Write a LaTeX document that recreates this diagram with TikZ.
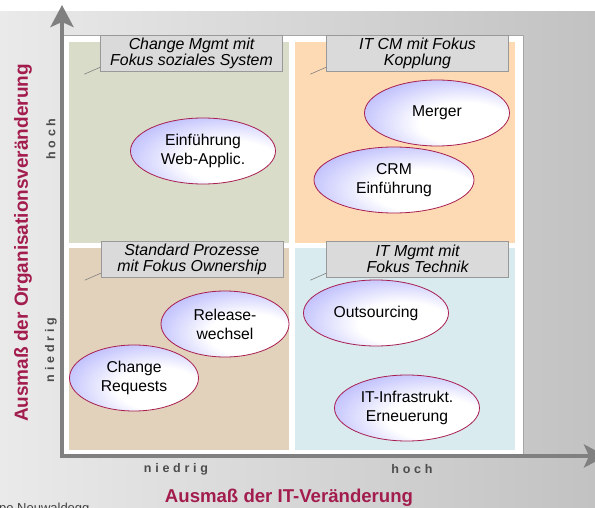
\documentclass[tikz,border=0pt]{standalone}
\usepackage{fontspec}
\setmainfont{Liberation Sans}
\usepackage{tikz}
\usetikzlibrary{shapes.geometric, arrows.meta, positioning, calc}

\definecolor{bgLight}{RGB}{234,234,234}
\definecolor{bgDark}{RGB}{194,194,194}
\definecolor{axisGray}{RGB}{128,128,128}
\definecolor{titleRed}{RGB}{163,28,78}
\definecolor{quadGreen}{RGB}{217,220,200}
\definecolor{quadOrange}{RGB}{253,218,180}
\definecolor{quadTan}{RGB}{226,209,187}
\definecolor{quadBlue}{RGB}{217,235,239}
\definecolor{lblGray}{RGB}{218,218,218}
\definecolor{ovalLine}{RGB}{168,30,80}
\definecolor{ovalBlue}{RGB}{160,160,252}

\pgfdeclareradialshading{ovalshade}{\pgfpoint{12bp}{-10bp}}{color(0bp)=(white); color(16bp)=(white); color(44bp)=(ovalBlue); color(80bp)=(ovalBlue)}

\begin{document}
\begin{tikzpicture}[
    x=1pt, y=-1pt,
    lbl/.style={rectangle, draw=axisGray!80, fill=lblGray, minimum width=182pt, minimum height=36pt, inner sep=0pt, align=center, font=\fontsize{15.9}{16}\selectfont\itshape},
    oval/.style={ellipse, draw=ovalLine, line width=0.8pt, shading=ovalshade, minimum width=145pt, minimum height=66pt, inner sep=0pt, align=center, font=\fontsize{15.7}{19}\selectfont},
    level/.style={text=black!70, font=\fontsize{12.5}{13}\selectfont\bfseries\addfontfeature{LetterSpace=30}},
    axistitle/.style={text=titleRed, font=\fontsize{18.6}{19}\selectfont\bfseries},
    leader/.style={draw=axisGray, line width=0.6pt},
    axis/.style={draw=axisGray, line width=4pt, -{Stealth[length=22pt, width=23pt, inset=5pt]}}
]
\useasboundingbox (0,0) rectangle (595,508);

% backdrop and white panel
\shade[left color=bgLight, right color=bgDark] (0,12) rectangle (595,508);
\draw[draw=axisGray!70, fill=white] (63,35) rectangle (523,455);

% quadrants
\fill[quadGreen] (69,42) rectangle (289,243);
\fill[quadOrange] (295,42) rectangle (515,243);
\fill[quadTan] (69,248) rectangle (289,450);
\fill[quadBlue] (295,248) rectangle (515,450);

% axes
\coordinate (origin) at (62,456);
\coordinate (yEnd) at (62,5);
\coordinate (xEnd) at (606,456);
\draw[axis] ([yshift=-2pt]origin) -- (yEnd);
\draw[axis] ([xshift=-2pt]origin) -- (xEnd);

\node[axistitle, rotate=90, font=\fontsize{19}{19}\selectfont\bfseries] (yTitle) at (23,243) {Ausmaß der Organisationsveränderung};
\node[axistitle] (xTitle) at (289,498) {Ausmaß der IT-Veränderung};

\node[level, rotate=90] (yHigh) at (51,139) {hoch};
\node[level, rotate=90] (yLow) at (51,350) {niedrig};
\node[level] (xLow) at (176,469) {niedrig};
\node[level] (xHigh) at (412,469) {hoch};

% quadrant labels
\node[lbl] (tlLbl) at (191.5,53) {Change Mgmt mit\\Fokus soziales System};
\node[lbl] (trLbl) at (417.5,53) {IT CM mit Fokus\\Kopplung};
\node[lbl] (blLbl) at (192,259) {Standard Prozesse\\mit Fokus Ownership};
\node[lbl] (brLbl) at (417.5,259) {IT Mgmt mit\\Fokus Technik};

\draw[leader] ([yshift=4pt]tlLbl.south west) -- ++(-16,7);
\draw[leader] ([yshift=4pt]trLbl.south west) -- ++(-16,7);
\draw[leader] ([yshift=4pt]blLbl.south west) -- ++(-16,7);
\draw[leader] ([yshift=4pt]brLbl.south west) -- ++(-16,7);

% changes
\node[oval] (web) at (203,151) {Einführung\\Web-Applic.};
\node[oval] (merger) at (437,113) {Merger};
\node[oval, minimum width=160pt] (crm) at (394,180) {CRM\\Einführung};
\node[oval, minimum width=128pt] (release) at (225,324) {Release-\\wechsel};
\node[oval, minimum width=129pt] (requests) at (134,378) {Change\\Requests};
\node[oval] (outsrc) at (376,313) {Outsourcing};
\node[oval] (infra) at (407,408) {IT-Infrastrukt.\\Erneuerung};

\node[anchor=base east, font=\fontsize{13}{13}\selectfont, text=black!75] (brand) at (93,512) {Gruppe Neuwaldegg};
\end{tikzpicture}
\end{document}
